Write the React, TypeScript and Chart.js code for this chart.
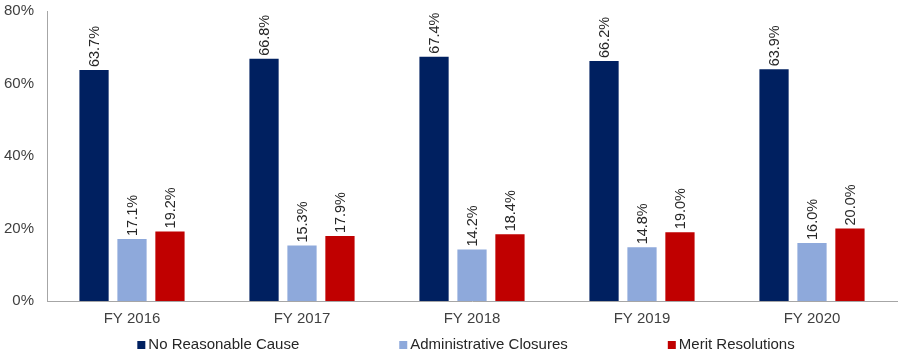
import React, { useEffect, useRef } from "react";
import { Chart, registerables } from "chart.js";

Chart.register(...registerables);

const categories = ["FY 2016", "FY 2017", "FY 2018", "FY 2019", "FY 2020"];
const noReasonableCause = [63.7, 66.8, 67.4, 66.2, 63.9];
const administrativeClosures = [17.1, 15.3, 14.2, 14.8, 16.0];
const meritResolutions = [19.2, 17.9, 18.4, 19.0, 20.0];
const yTicks = [0, 20, 40, 60, 80];

const FONT = "'Liberation Sans', Arial, sans-serif";

const labelPlugin = {
  id: "barLabels",
  afterDatasetsDraw(chart: any) {
    const ctx = chart.ctx;
    ctx.save();
    ctx.font = `14.5px ${FONT}`;
    ctx.fillStyle = "#262626";
    ctx.textAlign = "left";
    ctx.textBaseline = "middle";
    chart.data.datasets.forEach((ds: any, di: number) => {
      const meta = chart.getDatasetMeta(di);
      meta.data.forEach((el: any, i: number) => {
        const v = ds.data[i] as number;
        ctx.save();
        ctx.translate(el.x + 1, el.y - 3);
        ctx.rotate(-Math.PI / 2);
        ctx.fillText(v.toFixed(1) + "%", 0, 0);
        ctx.restore();
      });
    });
    ctx.restore();
  },
};

const legendPlugin = {
  id: "customLegend",
  afterDraw(chart: any) {
    const ctx = chart.ctx;
    ctx.save();
    ctx.font = `15px ${FONT}`;
    ctx.textBaseline = "middle";
    ctx.textAlign = "left";
    const box = 8;
    const gapBox = 3;
    const gapItem = 100;
    const items = chart.data.datasets.map((ds: any) => ({
      label: ds.label,
      color: ds.backgroundColor,
      w: box + gapBox + ctx.measureText(ds.label).width,
    }));
    const total = items.reduce((s: number, it: any) => s + it.w, 0) + gapItem * (items.length - 1);
    const centerX = chart.width / 2 + 16;
    const y = chart.height - 18;
    let x = centerX - total / 2;
    items.forEach((it: any) => {
      ctx.fillStyle = it.color;
      ctx.fillRect(x, y - box / 2, box, box);
      ctx.fillStyle = "#262626";
      ctx.fillText(it.label, x + box + gapBox, y);
      x += it.w + gapItem;
    });
    ctx.restore();
  },
};

export default function App() {
  const ref = useRef<HTMLCanvasElement>(null);
  useEffect(() => {
    document.body.style.margin = "0";
    const chart = new Chart(ref.current!, {
      type: "bar",
      data: {
        labels: categories,
        datasets: [
          { label: "No Reasonable Cause", data: noReasonableCause, backgroundColor: "#002060" },
          { label: "Administrative Closures", data: administrativeClosures, backgroundColor: "#8EA9DB" },
          { label: "Merit Resolutions", data: meritResolutions, backgroundColor: "#C00000" },
        ],
      },
      options: {
        animation: false,
        responsive: false,
        layout: { padding: { left: 0, right: 3, top: 11, bottom: 26 } },
        datasets: { bar: { categoryPercentage: 0.67, barPercentage: 0.77 } },
        scales: {
          x: {
            grid: { display: false, drawTicks: false },
            border: { display: true, color: "#A6A6A6" },
            ticks: { color: "#404040", font: { family: FONT, size: 15 }, padding: 9 },
          },
          y: {
            min: 0,
            max: 80,
            afterBuildTicks: (scale: any) => {
              scale.ticks = yTicks.map((v) => ({ value: v }));
            },
            afterFit: (scale: any) => {
              scale.width = 47;
              scale.paddingTop = 0;
              scale.paddingBottom = 0;
            },
            grid: { display: false, drawTicks: false },
            border: { display: true, color: "#A6A6A6" },
            ticks: {
              color: "#404040",
              font: { family: FONT, size: 15 },
              padding: 13,
              callback: (v: any) => v + "%",
            },
          },
        },
        plugins: {
          tooltip: { enabled: false },
          legend: { display: false },
        },
      },
      plugins: [labelPlugin, legendPlugin],
    });
    return () => chart.destroy();
  }, []);
  return <canvas ref={ref} width={900} height={363} style={{ display: "block" }} />;
}
